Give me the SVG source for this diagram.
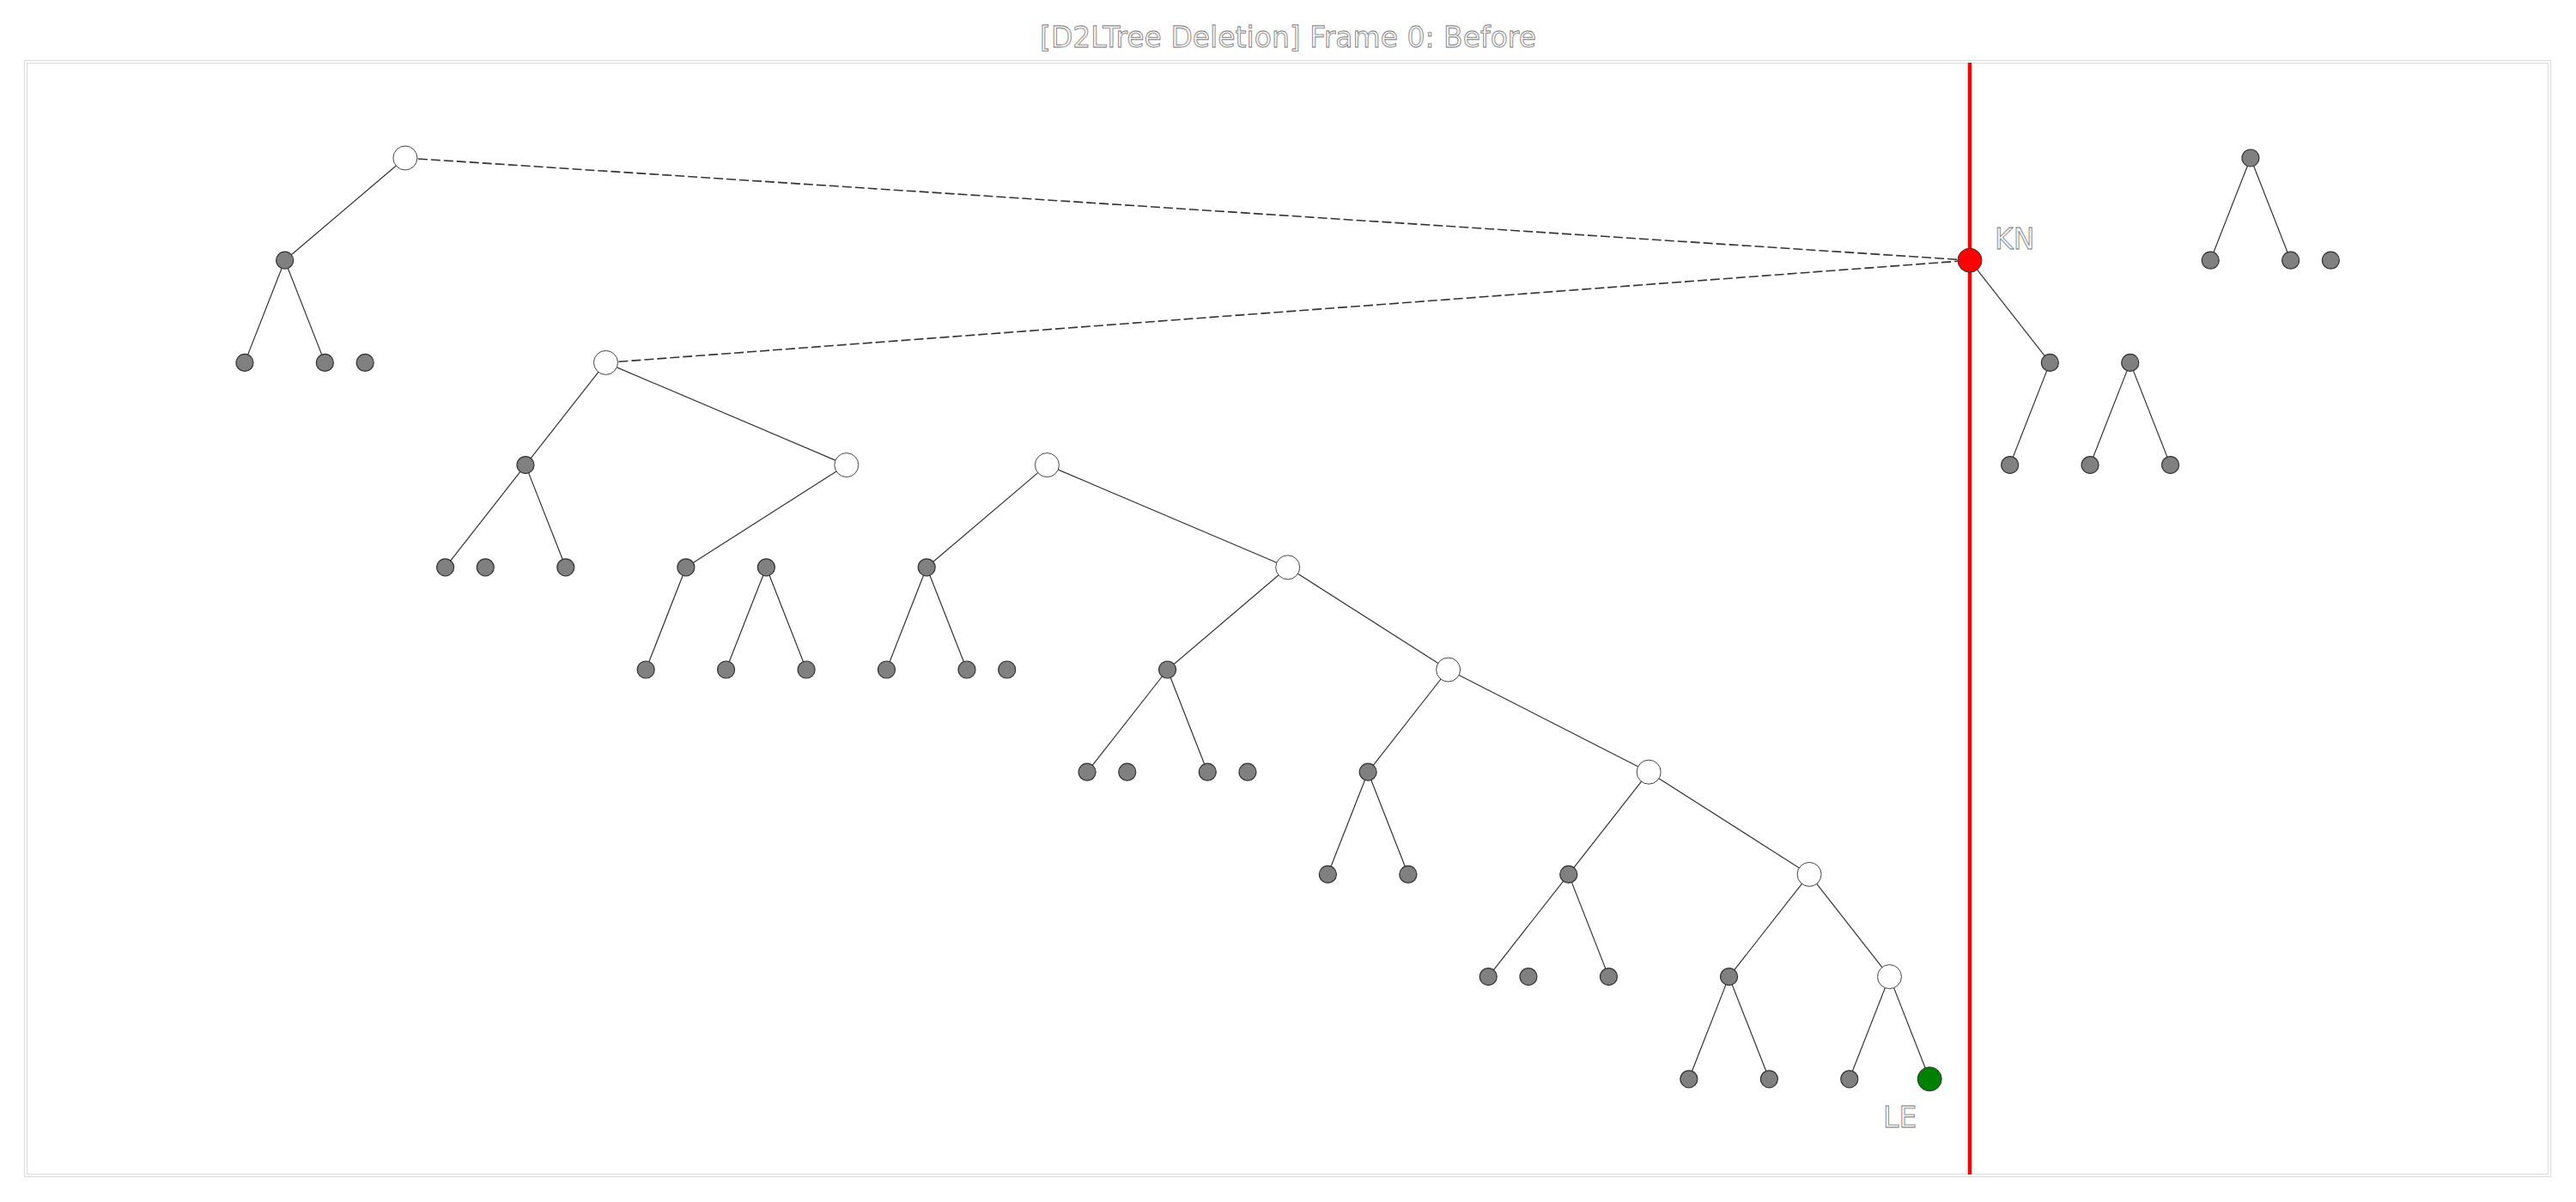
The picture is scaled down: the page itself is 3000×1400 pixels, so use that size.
<svg xmlns="http://www.w3.org/2000/svg" width="3000" height="1400" viewBox="0 0 3000 1400">
  <style>
    .label { font-family: "DejaVu Sans", "Liberation Sans", sans-serif; font-size: 33px; fill: #f6f6f6; stroke: #777; stroke-width: 0.8; }
    .edge { stroke: #333; stroke-width: 1.2; fill: none; }
    .link { stroke: #333; stroke-width: 1.6; stroke-dasharray: 11 4; fill: none; }
    .leaf { fill: #808080; stroke: #333; stroke-width: 1.2; }
    .inner { fill: #fff; stroke: #444; stroke-width: 1; }
    .kn { fill: #ff0000; stroke: #333; stroke-width: 1; }
    .le { fill: #008000; stroke: #333; stroke-width: 1; }
  </style>
  <rect width="3000" height="1400" fill="#fff"/>

  <!-- frame -->
  <rect x="28.5" y="70.5" width="2942" height="1300" fill="none" stroke="#ddd" stroke-width="1.2"/>
  <rect x="31.5" y="73.5" width="2936" height="1294" fill="none" stroke="#ddd" stroke-width="1.2"/>

  <text class="label" x="1500" y="55" text-anchor="middle">[D2LTree Deletion] Frame 0: Before</text>

  <!-- deletion marker -->
  <line x1="2294" y1="73" x2="2294" y2="1368" stroke="#ff0000" stroke-width="4.5"/>

  <g id="connectors">
    <!-- links to KN -->
    <line class="link" x1="471.9" y1="184" x2="2294" y2="303.2"/>
    <line class="link" x1="705.5" y1="422.4" x2="2294" y2="303.2"/>
    <!-- tree edges -->
    <line class="edge" x1="471.9" y1="184" x2="331.7" y2="303.2"/>
    <line class="edge" x1="331.7" y1="303.2" x2="285" y2="422.4"/>
    <line class="edge" x1="331.7" y1="303.2" x2="378.4" y2="422.4"/>
    <line class="edge" x1="705.5" y1="422.4" x2="612" y2="541.6"/>
    <line class="edge" x1="705.5" y1="422.4" x2="985.8" y2="541.6"/>
    <line class="edge" x1="612" y1="541.6" x2="518.6" y2="660.8"/>
    <line class="edge" x1="612" y1="541.6" x2="658.8" y2="660.8"/>
    <line class="edge" x1="985.8" y1="541.6" x2="798.9" y2="660.8"/>
    <line class="edge" x1="798.9" y1="660.8" x2="752.2" y2="780"/>
    <line class="edge" x1="892.4" y1="660.8" x2="845.6" y2="780"/>
    <line class="edge" x1="892.4" y1="660.8" x2="939.1" y2="780"/>
    <line class="edge" x1="1219.4" y1="541.6" x2="1079.2" y2="660.8"/>
    <line class="edge" x1="1219.4" y1="541.6" x2="1499.7" y2="660.8"/>
    <line class="edge" x1="1079.2" y1="660.8" x2="1032.5" y2="780"/>
    <line class="edge" x1="1079.2" y1="660.8" x2="1126" y2="780"/>
    <line class="edge" x1="1499.7" y1="660.8" x2="1359.6" y2="780"/>
    <line class="edge" x1="1499.7" y1="660.8" x2="1686.6" y2="780"/>
    <line class="edge" x1="1359.6" y1="780" x2="1266.1" y2="899.2"/>
    <line class="edge" x1="1359.6" y1="780" x2="1406.3" y2="899.2"/>
    <line class="edge" x1="1686.6" y1="780" x2="1593.2" y2="899.2"/>
    <line class="edge" x1="1686.6" y1="780" x2="1920.2" y2="899.2"/>
    <line class="edge" x1="1593.2" y1="899.2" x2="1546.4" y2="1018.4"/>
    <line class="edge" x1="1593.2" y1="899.2" x2="1639.9" y2="1018.4"/>
    <line class="edge" x1="1920.2" y1="899.2" x2="1826.8" y2="1018.4"/>
    <line class="edge" x1="1920.2" y1="899.2" x2="2107.1" y2="1018.4"/>
    <line class="edge" x1="1826.8" y1="1018.4" x2="1733.3" y2="1137.6"/>
    <line class="edge" x1="1826.8" y1="1018.4" x2="1873.5" y2="1137.6"/>
    <line class="edge" x1="2107.1" y1="1018.4" x2="2013.6" y2="1137.6"/>
    <line class="edge" x1="2107.1" y1="1018.4" x2="2200.5" y2="1137.6"/>
    <line class="edge" x1="2013.6" y1="1137.6" x2="1966.9" y2="1256.8"/>
    <line class="edge" x1="2013.6" y1="1137.6" x2="2060.4" y2="1256.8"/>
    <line class="edge" x1="2200.5" y1="1137.6" x2="2153.8" y2="1256.8"/>
    <line class="edge" x1="2200.5" y1="1137.6" x2="2247.2" y2="1256.8"/>
    <!-- right of the marker -->
    <line class="edge" x1="2294" y1="303.2" x2="2387.4" y2="422.4"/>
    <line class="edge" x1="2387.4" y1="422.4" x2="2340.7" y2="541.6"/>
    <line class="edge" x1="2480.8" y1="422.4" x2="2434.1" y2="541.6"/>
    <line class="edge" x1="2480.8" y1="422.4" x2="2527.6" y2="541.6"/>
    <line class="edge" x1="2621" y1="184" x2="2574.3" y2="303.2"/>
    <line class="edge" x1="2621" y1="184" x2="2667.7" y2="303.2"/>
  </g>

  <!-- level 0 -->
  <g id="n0_4"><circle class="inner" cx="471.9" cy="184" r="14"/></g>
  <g id="n0_50"><circle class="leaf" cx="2621" cy="184" r="10"/></g>
  <!-- level 1 -->
  <g id="n1_1"><circle class="leaf" cx="331.7" cy="303.2" r="10"/></g>
  <g id="KN"><circle class="kn" cx="2294" cy="303.2" r="14"/><text class="label" x="2323" y="290">KN</text></g>
  <g id="n1_49"><circle class="leaf" cx="2574.3" cy="303.2" r="10"/></g>
  <g id="n1_51"><circle class="leaf" cx="2667.7" cy="303.2" r="10"/></g>
  <g id="n1_52"><circle class="leaf" cx="2714.4" cy="303.2" r="10"/></g>
  <!-- level 2 -->
  <g id="n2_0"><circle class="leaf" cx="285" cy="422.4" r="10"/></g>
  <g id="n2_2"><circle class="leaf" cx="378.4" cy="422.4" r="10"/></g>
  <g id="n2_3"><circle class="leaf" cx="425.2" cy="422.4" r="10"/></g>
  <g id="n2_9"><circle class="inner" cx="705.5" cy="422.4" r="14"/></g>
  <g id="n2_45"><circle class="leaf" cx="2387.4" cy="422.4" r="10"/></g>
  <g id="n2_47"><circle class="leaf" cx="2480.8" cy="422.4" r="10"/></g>
  <!-- level 3 -->
  <g id="n3_7"><circle class="leaf" cx="612" cy="541.6" r="10"/></g>
  <g id="n3_15"><circle class="inner" cx="985.8" cy="541.6" r="14"/></g>
  <g id="n3_20"><circle class="inner" cx="1219.4" cy="541.6" r="14"/></g>
  <g id="n3_44"><circle class="leaf" cx="2340.7" cy="541.6" r="10"/></g>
  <g id="n3_46"><circle class="leaf" cx="2434.1" cy="541.6" r="10"/></g>
  <g id="n3_48"><circle class="leaf" cx="2527.6" cy="541.6" r="10"/></g>
  <!-- level 4 -->
  <g id="n4_5"><circle class="leaf" cx="518.6" cy="660.8" r="10"/></g>
  <g id="n4_6"><circle class="leaf" cx="565.3" cy="660.8" r="10"/></g>
  <g id="n4_8"><circle class="leaf" cx="658.8" cy="660.8" r="10"/></g>
  <g id="n4_11"><circle class="leaf" cx="798.9" cy="660.8" r="10"/></g>
  <g id="n4_13"><circle class="leaf" cx="892.4" cy="660.8" r="10"/></g>
  <g id="n4_17"><circle class="leaf" cx="1079.2" cy="660.8" r="10"/></g>
  <g id="n4_26"><circle class="inner" cx="1499.7" cy="660.8" r="14"/></g>
  <!-- level 5 -->
  <g id="n5_10"><circle class="leaf" cx="752.2" cy="780" r="10"/></g>
  <g id="n5_12"><circle class="leaf" cx="845.6" cy="780" r="10"/></g>
  <g id="n5_14"><circle class="leaf" cx="939.1" cy="780" r="10"/></g>
  <g id="n5_16"><circle class="leaf" cx="1032.5" cy="780" r="10"/></g>
  <g id="n5_18"><circle class="leaf" cx="1126" cy="780" r="10"/></g>
  <g id="n5_19"><circle class="leaf" cx="1172.7" cy="780" r="10"/></g>
  <g id="n5_23"><circle class="leaf" cx="1359.6" cy="780" r="10"/></g>
  <g id="n5_30"><circle class="inner" cx="1686.6" cy="780" r="14"/></g>
  <!-- level 6 -->
  <g id="n6_21"><circle class="leaf" cx="1266.1" cy="899.2" r="10"/></g>
  <g id="n6_22"><circle class="leaf" cx="1312.8" cy="899.2" r="10"/></g>
  <g id="n6_24"><circle class="leaf" cx="1406.3" cy="899.2" r="10"/></g>
  <g id="n6_25"><circle class="leaf" cx="1453" cy="899.2" r="10"/></g>
  <g id="n6_28"><circle class="leaf" cx="1593.2" cy="899.2" r="10"/></g>
  <g id="n6_35"><circle class="inner" cx="1920.2" cy="899.2" r="14"/></g>
  <!-- level 7 -->
  <g id="n7_27"><circle class="leaf" cx="1546.4" cy="1018.4" r="10"/></g>
  <g id="n7_29"><circle class="leaf" cx="1639.9" cy="1018.4" r="10"/></g>
  <g id="n7_33"><circle class="leaf" cx="1826.8" cy="1018.4" r="10"/></g>
  <g id="n7_39"><circle class="inner" cx="2107.1" cy="1018.4" r="14"/></g>
  <!-- level 8 -->
  <g id="n8_31"><circle class="leaf" cx="1733.3" cy="1137.6" r="10"/></g>
  <g id="n8_32"><circle class="leaf" cx="1780" cy="1137.6" r="10"/></g>
  <g id="n8_34"><circle class="leaf" cx="1873.5" cy="1137.6" r="10"/></g>
  <g id="n8_37"><circle class="leaf" cx="2013.6" cy="1137.6" r="10"/></g>
  <g id="n8_41"><circle class="inner" cx="2200.5" cy="1137.6" r="14"/></g>
  <!-- level 9 -->
  <g id="n9_36"><circle class="leaf" cx="1966.9" cy="1256.8" r="10"/></g>
  <g id="n9_38"><circle class="leaf" cx="2060.4" cy="1256.8" r="10"/></g>
  <g id="n9_40"><circle class="leaf" cx="2153.8" cy="1256.8" r="10"/></g>
  <g id="LE"><circle class="le" cx="2247.2" cy="1256.8" r="14"/><text class="label" x="2193" y="1313">LE</text></g>
</svg>
